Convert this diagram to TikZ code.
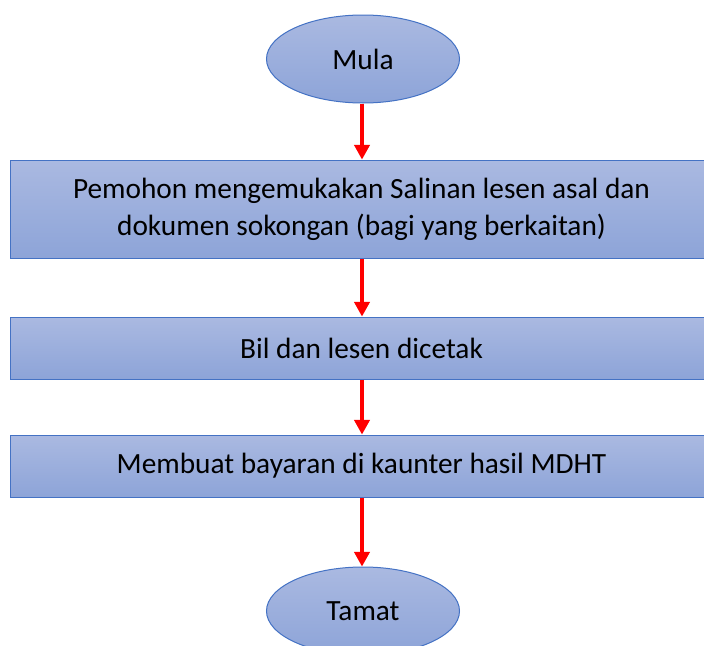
\documentclass[tikz,border=0pt]{standalone}
\usepackage{fontspec}
\setmainfont{Carlito}
\usetikzlibrary{shapes.geometric,arrows.meta}
\definecolor{bord}{HTML}{4472C4}
\definecolor{ftop}{HTML}{AAB9E1}
\definecolor{fbot}{HTML}{8DA4D8}
\definecolor{arr}{HTML}{FF0000}
\tikzset{
  stepbox/.style={draw=bord, line width=0.75pt, top color=ftop, bottom color=fbot,
    rectangle, minimum width=527.25pt, inner sep=0pt, align=center,
    font=\fontsize{22pt}{27.75pt}\selectfont},
  term/.style={draw=bord, line width=0.75pt, top color=ftop, bottom color=fbot,
    ellipse, minimum width=144.75pt, minimum height=66pt, inner sep=0pt,
    font=\fontsize{22pt}{27.75pt}\selectfont},
  flow/.style={draw=arr, line width=2.4pt, -{Triangle[length=11pt,width=11.5pt]}}
}
\begin{document}
\begin{tikzpicture}[x=0.75pt,y=-0.75pt]
\useasboundingbox (0,0) rectangle (704,646);
\clip (0,0) rectangle (704,646);
\node[term] (mula) at (363,59) {Mula};
\node[stepbox, minimum height=73.5pt] (b1) at (361.5,209) {Pemohon mengemukakan Salinan lesen asal dan\\dokumen sokongan (bagi yang berkaitan)};
\node[stepbox, minimum height=46.5pt] (b2) at (361.5,348) {Bil dan lesen dicetak};
\node[stepbox, minimum height=46.5pt] (b3) at (361.5,466) {Membuat bayaran di kaunter hasil MDHT};
\node[term] (tamat) at (363,611) {Tamat};
\draw[flow] (mula.south -| 362,0) -- (b1.north -| 362,0);
\draw[flow] (b1.south -| 362,0) -- (b2.north -| 362,0);
\draw[flow] (b2.south -| 362,0) -- (b3.north -| 362,0);
\draw[flow] (b3.south -| 362,0) -- (tamat.north -| 362,0);
\end{tikzpicture}
\end{document}
